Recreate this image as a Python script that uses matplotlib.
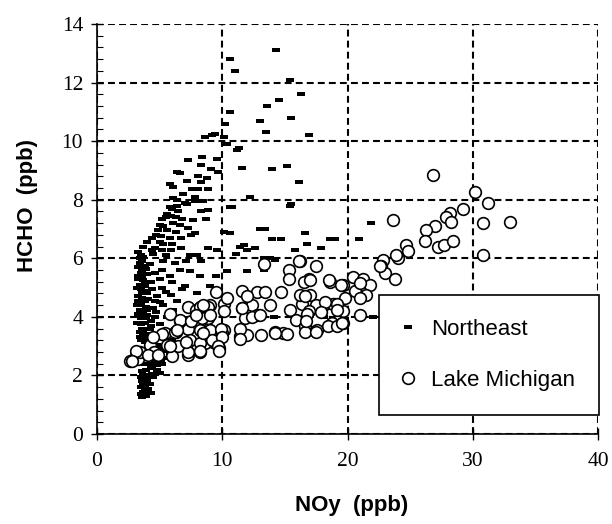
import numpy as np
import matplotlib
matplotlib.use('Agg')
import matplotlib.pyplot as plt
from matplotlib.ticker import MultipleLocator

# Northeast (dash markers)
ne_x = [14.3, 10.6, 11.0, 15.4, 16.3, 14.5, 13.6, 10.6, 15.5, 13.0, 10.2, 13.5, 16.9, 10.1, 11.3, 11.6, 14.0, 15.2, 16.1, 12.2, 15.5, 10.75,
        9.15, 8.6, 9.4, 10.35, 11.15, 7.3, 8.35, 9.55, 8.3, 9.1, 9.7, 11.55, 6.4, 6.6, 8.1, 8.75, 7.15, 8.3, 5.8, 6.1, 7.55, 8.1, 8.9,
        6.9, 7.8, 6.1, 6.35, 7.0, 7.8, 8.5, 5.85, 6.0, 6.4, 7.2, 8.3, 8.9, 10.6, 5.6, 5.9, 6.5, 5.15, 5.5, 6.3, 6.8, 7.7, 8.7,
        5.0, 5.25, 6.1, 6.6, 7.3, 4.9, 5.6, 6.3, 7.85, 4.7, 5.1, 5.8, 6.7, 7.5, 10.1, 5.0, 5.3, 6.0, 4.6, 4.4, 5.2, 5.9, 6.7, 8.9,
        11.4, 12.0, 4.5, 5.5, 7.4, 8.0,
        15.4, 10.6, 13.0, 13.4, 14.0, 14.7, 16.6, 16.8, 19.0, 20.9, 21.9, 11.7, 12.6, 17.9, 9.55, 11.1, 15.8, 13.3, 13.8, 14.2,
        5.8, 7.4, 8.2, 9.5, 9.0, 10.4, 12.0, 13.3, 7.0, 7.95, 5.9, 4.6, 14.1, 18.1, 22.0, 18.6,
        3.4, 3.6, 3.3, 3.8, 4.2, 3.5, 4.0, 4.6, 3.3, 3.7, 4.3, 5.0, 3.2, 3.5, 3.9, 4.4, 5.2, 3.3, 3.6, 4.1, 4.8, 3.2, 3.5, 3.9, 4.5,
        5.3, 3.3, 3.6, 4.0, 4.6, 3.2, 3.5, 3.8, 4.3, 5.0, 3.4, 3.7, 4.1, 4.6, 3.5, 3.8, 4.3, 4.8, 5.4, 6.0,
        5.3, 6.2, 7.1, 8.3, 6.6, 5.2, 6.0, 6.8, 5.5, 6.4, 5.0, 7.2, 6.1, 5.6, 6.7,
        3.5, 3.7, 3.5, 3.8, 3.6, 4.0, 3.7, 4.1, 4.4, 3.6, 3.9, 4.3, 4.8, 3.8, 4.2, 4.6, 5.2, 3.9, 4.4, 4.9, 5.5, 4.1, 4.7, 5.3,
        5.8, 4.5, 5.0, 3.9, 4.2, 3.5, 4.5, 5.0,
        3.3, 3.5, 3.7, 3.4, 3.6, 3.9, 3.3, 3.6, 3.8, 3.4, 3.7, 4.0, 3.3, 3.5, 3.8, 3.4, 3.7, 3.5, 3.9, 3.6, 4.2, 3.4, 3.7, 4.0,
        3.6, 3.9, 4.3, 3.8, 4.1, 3.7, 4.0, 4.4, 4.8, 5.1, 4.5, 4.2, 4.9, 3.6, 3.8, 4.0, 4.3, 4.7, 3.7, 4.0, 4.4]
ne_y = [13.1, 12.8, 12.4, 12.1, 11.6, 11.4, 11.2, 11.0, 10.8, 10.7, 10.6, 10.3, 10.2, 10.15, 9.75, 9.1, 9.05, 9.15, 8.6, 8.1, 7.85, 7.75,
        10.2, 10.15, 10.25, 9.9, 9.7, 9.35, 9.45, 9.4, 9.2, 9.05, 8.95, 9.1, 8.95, 8.9, 8.8, 8.75, 8.65, 8.6, 8.55, 8.45, 8.35, 8.35, 8.35,
        8.2, 8.1, 8.05, 8.0, 7.9, 7.95, 7.95, 7.75, 7.7, 7.8, 7.85, 7.6, 7.65, 7.75, 7.5, 7.45, 7.6, 7.35, 7.4, 7.4, 7.35, 7.3, 7.35,
        7.15, 7.1, 7.2, 7.15, 7.05, 6.95, 6.95, 6.9, 6.85, 6.8, 6.75, 6.7, 6.7, 6.8, 6.9, 6.55, 6.5, 6.5, 6.35, 6.3, 6.3, 6.3, 6.35, 6.35,
        6.4, 6.3, 6.15, 6.1, 6.1, 6.1,
        7.8, 6.85, 7.0, 7.0, 6.65, 6.65, 6.85, 6.5, 6.65, 6.65, 7.2, 6.45, 6.35, 6.35, 6.3, 6.15, 6.3, 6.0, 6.0, 5.95,
        5.4, 5.55, 5.4, 5.4, 5.05, 5.55, 5.55, 5.6, 5.05, 4.8, 4.75, 4.55, 4.0, 4.0, 4.0, 6.65,
        6.0, 5.9, 5.7, 5.75, 5.8, 5.5, 5.45, 5.5, 5.3, 5.25, 5.2, 5.3, 5.0, 4.95, 4.9, 4.95, 5.0, 4.7, 4.65, 4.6, 4.7, 4.4, 4.4, 4.35, 4.3,
        4.4, 4.1, 4.1, 4.05, 4.0, 3.8, 3.75, 3.8, 3.7, 3.75, 3.5, 3.45, 3.4, 3.35, 3.2, 3.15, 3.1, 3.05, 3.0, 3.2,
        5.9, 5.85, 5.9, 5.9, 5.6, 5.6, 5.2, 4.95, 4.85, 4.55, 4.5, 4.4, 4.25, 4.0, 3.7,
        1.35, 1.45, 1.6, 1.65, 1.8, 1.85, 2.0, 2.0, 2.05, 2.15, 2.2, 2.25, 2.2, 2.4, 2.4, 2.45, 2.4, 2.6, 2.6, 2.65, 2.6, 2.8, 2.8, 2.85,
        2.75, 2.95, 3.0, 1.55, 1.7, 1.95, 1.95, 2.1,
        6.2, 6.1, 6.05, 5.85, 5.6, 5.65, 5.4, 5.35, 5.15, 5.1, 4.85, 4.8, 4.55, 4.5, 4.55, 4.25, 4.2, 3.95, 3.95, 3.6, 3.6, 3.3, 3.3, 3.25,
        1.25, 1.3, 1.4, 1.5, 1.55, 1.75, 1.9, 2.3, 2.35, 2.5, 2.7, 2.75, 2.9, 4.8, 5.05, 4.25, 3.85, 4.15, 6.4, 6.55, 6.7]

# Lake Michigan (open circles)
lm_x = [26.85, 30.2, 31.2, 29.2, 28.2, 27.9, 28.3, 23.65, 30.8, 32.95, 27.0, 26.3, 26.2, 27.2, 27.7, 28.45, 24.7, 24.8, 24.05,
        22.85, 22.7, 30.8, 23.0, 23.8, 23.9, 22.6,
        20.45, 21.25, 19.65, 21.8, 20.6, 21.5, 19.8, 21.0, 18.9, 19.65, 21.0, 18.8, 19.65, 18.6, 21.0, 17.0, 18.2, 18.85, 17.5,
        16.4, 16.9, 18.45, 19.2, 16.75, 17.6, 17.5, 16.2, 16.9, 16.5,
        13.3, 16.1, 15.35, 15.3, 17.0, 18.5, 19.5, 9.5, 11.55, 12.75, 13.4, 14.7, 16.2, 16.6, 18.2, 19.2, 10.1, 11.55, 12.4,
        13.85, 15.4, 16.8, 17.9, 19.15, 11.8, 12.8, 15.9, 16.6, 19.6, 14.2, 14.85, 15.2, 11.4, 11.95, 13.1, 16.6, 17.5, 9.0,
        10.1, 8.7, 9.0, 10.1, 11.4, 9.3, 9.75, 8.6, 10.4, 11.95, 11.6, 12.4, 13.0, 16.7, 14.25, 11.4, 10.0, 9.2,
        7.3, 7.9, 8.9, 8.2, 8.9, 9.9, 9.95, 9.7, 7.15, 8.2, 7.3, 5.95, 5.7, 5.4, 6.3, 7.3, 6.6, 5.8, 4.25, 3.15, 3.3, 2.6, 3.4,
        4.55, 8.3, 4.1, 3.1, 4.9, 5.55, 6.5, 7.3, 5.15, 6.2, 8.2, 7.4, 8.2, 6.6, 7.5, 8.4, 8.2, 8.5, 9.0, 7.9, 6.35, 4.5, 2.8,
        5.8, 7.1, 8.2, 9.75, 8.5]
lm_y = [8.85, 8.25, 7.9, 7.7, 7.55, 7.4, 7.25, 7.3, 7.2, 7.25, 7.1, 6.95, 6.6, 6.4, 6.45, 6.6, 6.45, 6.25, 6.0,
        5.95, 5.75, 6.1, 5.5, 5.3, 6.1, 5.75,
        5.35, 5.3, 5.1, 5.1, 4.9, 4.75, 4.65, 4.65, 4.45, 4.2, 4.05, 3.8, 3.8, 5.2, 5.15, 4.75, 4.45, 4.45, 4.4,
        4.45, 4.2, 3.7, 3.7, 3.55, 3.55, 5.75, 5.9, 5.3, 5.2,
        5.8, 5.9, 5.6, 5.3, 5.25, 5.25, 5.1, 4.85, 4.9, 4.85, 4.85, 4.85, 4.75, 4.7, 4.5, 4.45, 4.45, 4.3, 4.4,
        4.4, 4.25, 4.1, 4.15, 4.25, 3.95, 4.05, 3.9, 3.7, 3.8, 3.5, 3.45, 3.4, 3.35, 3.38, 3.38, 3.5, 3.5, 4.4,
        4.2, 4.0, 3.55, 3.55, 3.6, 3.15, 2.95, 3.1, 4.65, 4.7, 4.3, 4.0, 4.05, 3.85, 3.45, 3.25, 3.45, 3.2,
        4.35, 4.25, 4.35, 3.85, 3.95, 3.6, 3.3, 3.0, 3.1, 2.8, 2.7, 2.65, 3.0, 3.45, 3.5, 3.6, 3.85, 4.1, 3.05, 2.65, 2.55, 2.5, 2.8,
        2.8, 4.2, 2.7, 2.85, 2.7, 3.05, 3.0, 2.8, 3.4, 3.5, 3.55, 3.2, 3.1, 3.9, 3.85, 3.95, 4.35, 4.4, 4.05, 4.05, 3.55, 3.3, 2.5,
        3.0, 3.15, 2.85, 2.85, 3.45]

x_ticks = [0, 10, 20, 30, 40]
y_ticks = [0, 2, 4, 6, 8, 10, 12, 14]

# flat dash marker
dash = [(-1, -0.46), (1, -0.46), (1, 0.46), (-1, 0.46), (-1, -0.46)]

fig = plt.figure(figsize=(6.12, 5.24), dpi=100)
ax = fig.add_axes([97 / 612, 1 - 434 / 524, 501 / 612, 410 / 524])

ax.plot(ne_x, ne_y, linestyle='none', marker=dash, markersize=5.4, color='black',
        markeredgewidth=0, label='Northeast', zorder=3)
ax.plot(lm_x, lm_y, linestyle='none', marker='o', markersize=8.4, markerfacecolor='white',
        markeredgecolor='black', markeredgewidth=1.2, label='Lake Michigan', zorder=4)

ax.set_xlim(0, 40)
ax.set_ylim(0, 14)
ax.set_xticks(x_ticks)
ax.set_yticks(y_ticks)
ax.yaxis.set_minor_locator(MultipleLocator(0.4))
ax.tick_params(which='major', direction='inout', length=8, width=1, color='black')
ax.tick_params(which='minor', axis='y', direction='in', length=4, width=0.8)
for lab in ax.get_xticklabels() + ax.get_yticklabels():
    lab.set_fontfamily('Liberation Serif')
    lab.set_fontsize(15.5)
ax.tick_params(axis='x', pad=9)
ax.tick_params(axis='y', pad=6)

ax.grid(True, which='major', color='black', linestyle=(0, (3.3, 2)), linewidth=1.5, zorder=0)
ax.set_axisbelow(True)
for side in ['top', 'right']:
    ax.spines[side].set_visible(False)
for side in ['left', 'bottom']:
    ax.spines[side].set_linewidth(1.2)

fig.text(352 / 612, 1 - 505 / 524, 'NOy  (ppb)', ha='center', va='center',
         fontfamily='Liberation Sans', fontweight='bold', fontsize=16)
fig.text(28 / 612, 1 - 205 / 524, 'HCHO  (ppb)', ha='center', va='center', rotation=90,
         fontfamily='Liberation Sans', fontweight='bold', fontsize=16)

leg = ax.legend(loc='upper left', bbox_to_anchor=((379 - 97) / 501, (434 - 295) / 410),
                prop={'family': 'Liberation Sans', 'size': 16}, frameon=True, fancybox=False,
                borderpad=1.08, labelspacing=1.34, handlelength=0.45, handletextpad=0.8,
                borderaxespad=0, numpoints=1)
leg.get_frame().set_edgecolor('black')
leg.get_frame().set_linewidth(1.2)
leg.get_frame().set_alpha(1)

fig.savefig('out.png', dpi=100)
